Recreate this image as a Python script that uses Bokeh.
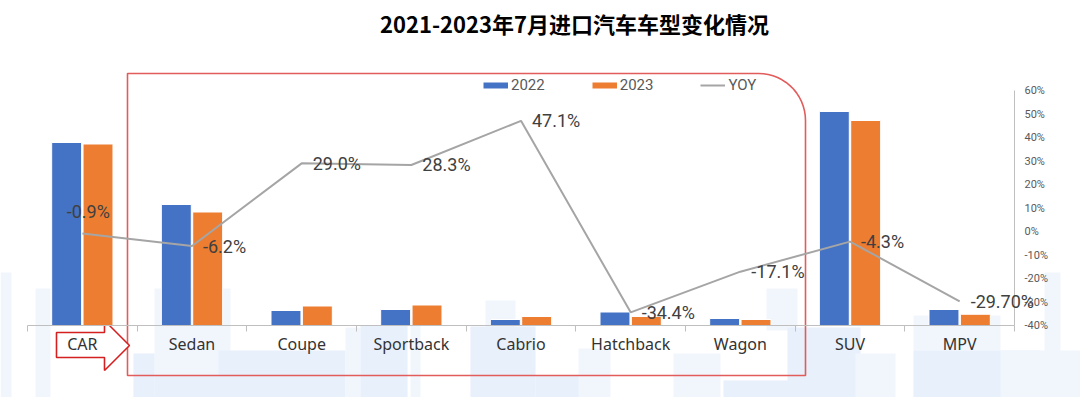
import math
from bokeh.plotting import figure
from bokeh.models import (Range1d, LinearAxis, FixedTicker, NumeralTickFormatter, Legend, LegendItem,
                          ColumnDataSource, LabelSet, Label, BoxAnnotation, PolyAnnotation)
from bokeh.core.properties import value
from bokeh.embed import file_html
from bokeh.resources import INLINE

# ---------------- data ----------------
categories = ["CAR", "Sedan", "Coupe", "Sportback", "Cabrio", "Hatchback", "Wagon", "SUV", "MPV"]
v2022 = [36600, 24200, 3000, 3200, 1200, 2700, 1400, 42800, 3200]
v2023 = [36300, 22700, 3900, 4100, 1800, 1800, 1200, 41000, 2250]
yoy = [-0.009, -0.062, 0.290, 0.283, 0.471, -0.344, -0.171, -0.043, -0.297]
yoy_labels = ["-0.9%", "-6.2%", "29.0%", "28.3%", "47.1%", "-34.4%", "-17.1%", "-4.3%", "-29.70%"]
series_names = ["2022", "2023", "YOY"]
yoy_ticks = [-0.4, -0.3, -0.2, -0.1, 0.0, 0.1, 0.2, 0.3, 0.4, 0.5, 0.6]
title_text = "2021-2023年7月进口汽车车型变化情况"

# ---------------- styles / layout ----------------
label_pos = ["above", "right", "right", "right", "right", "right", "right", "right", "right"]
BLUE, ORANGE, GRAY = "#4472C4", "#ED7D31", "#A5A5A5"
TXT = "#404040"
W, H = 1080, 397
LEFT_PX, RIGHT_PX, BASE_PX = 27, 1014, 325      # plot area edges on the page
UNIT_PER_PX = 200                               # bar value units per pixel
PCT_PER_PX = 0.01 / 2.35                        # YOY per pixel

n = len(categories)
cat_px = (RIGHT_PX - LEFT_PX) / n
centers = [i + 0.5 for i in range(n)]
bounds_x = [float(i) for i in range(n + 1)]

def dx(px):
    return (px - LEFT_PX) / cat_px

def dy(py):
    return (BASE_PX - py) * UNIT_PER_PX

p = figure(width=W, height=H,
           x_range=Range1d(dx(0), dx(W)), y_range=Range1d(dy(H), dy(0)),
           output_backend="svg", toolbar_location=None,
           min_border=0, min_border_left=0, min_border_right=0, min_border_top=0, min_border_bottom=0)
p.title.visible = False
p.outline_line_color = None
p.grid.visible = False
p.yaxis.visible = False
p.extra_y_ranges = {"yoy": Range1d(-0.40 - (H - BASE_PX) * PCT_PER_PX, -0.40 + BASE_PX * PCT_PER_PX)}

# decorative light-blue background skyline
LIGHT, MID = "#F1F6FD", "#E7F0FB"
deco = [(0, 272, 11, 397, LIGHT), (35, 288, 50, 397, LIGHT), (154, 288, 230, 397, LIGHT),
        (133, 353, 154, 397, MID), (218, 350, 345, 397, MID), (154, 375, 230, 397, MID),
        (345, 327, 360, 397, LIGHT), (360, 325, 407, 397, MID), (410, 316, 420, 397, LIGHT),
        (485, 300, 515, 330, LIGHT), (470, 326, 535, 397, MID), (535, 375, 597, 397, MID),
        (578, 348, 610, 397, LIGHT), (673, 353, 720, 397, LIGHT), (766, 288, 797, 330, LIGHT),
        (787, 327, 860, 397, MID), (723, 380, 850, 397, MID), (913, 315, 1000, 350, LIGHT),
        (913, 350, 1040, 397, MID), (1044, 272, 1060, 397, LIGHT), (1000, 350, 1080, 397, LIGHT),
        (855, 353, 895, 397, LIGHT)]
for x0, y0, x1, y1, c in deco:
    p.add_layout(BoxAnnotation(left=dx(x0), right=dx(x1), top=dy(y0), bottom=dy(y1),
                               fill_color=c, fill_alpha=1, line_alpha=0, level="underlay"))

# red box (rounded top-right corner) around the car sub-types
bl, br, bt, bb, rad = 127, 805, 73, 375, 47
bx = [bl, br - rad]
by = [bt, bt]
for k in range(1, 16):
    a = math.pi / 2 - k * (math.pi / 2) / 15
    bx.append(br - rad + rad * math.cos(a))
    by.append(bt + rad - rad * math.sin(a))
bx += [br, bl]
by += [bb, bb]
p.add_layout(PolyAnnotation(xs=[dx(v) for v in bx], ys=[dy(v) for v in by],
                            fill_alpha=0, line_color="#E25C5C", line_alpha=1, line_width=1.6,
                            level="underlay"))

# CAR arrow
ax = [56, 104, 104, 129, 104, 104, 56]
ay = [332, 332, 320, 345, 370, 357, 357]
p.add_layout(PolyAnnotation(xs=[dx(v) for v in ax], ys=[dy(v) for v in ay],
                            fill_color="white", fill_alpha=1, line_color="#D42020", line_alpha=1,
                            line_width=1.6, level="underlay"))

# bars
off, bw = 0.143, 0.273
src = ColumnDataSource(dict(x1=[c - off for c in centers], x2=[c + off for c in centers],
                            v22=v2022, v23=v2023, xc=centers, yoy=yoy, lab=yoy_labels))
p.vbar(x="x1", top="v22", bottom=0, width=bw, source=src, fill_color=BLUE, line_color="white", line_width=1)
p.vbar(x="x2", top="v23", bottom=0, width=bw, source=src, fill_color=ORANGE, line_color="white", line_width=1)

# YOY line
r_line = p.line(x="xc", y="yoy", source=src, y_range_name="yoy", line_color=GRAY, line_width=2)

# data labels
right_idx = [i for i in range(n) if label_pos[i] == "right"]
above_idx = [i for i in range(n) if label_pos[i] == "above"]
src_r = ColumnDataSource(dict(x=[centers[i] for i in right_idx], y=[yoy[i] for i in right_idx],
                              t=[yoy_labels[i] for i in right_idx]))
src_a = ColumnDataSource(dict(x=[centers[i] for i in above_idx], y=[yoy[i] for i in above_idx],
                              t=[yoy_labels[i] for i in above_idx]))
p.add_layout(LabelSet(x="x", y="y", text="t", source=src_r, y_range_name="yoy",
                      x_offset=11, y_offset=0, text_align="left", text_baseline="middle",
                      text_font=value("Roboto"), text_font_size="18px", text_color=TXT))
p.add_layout(LabelSet(x="x", y="y", text="t", source=src_a, y_range_name="yoy",
                      x_offset=6, y_offset=12, text_align="center", text_baseline="bottom",
                      text_font=value("Roboto"), text_font_size="18px", text_color=TXT))

# x axis at the bar baseline: labels at centers, ticks at category boundaries
xa = p.xaxis[0]
xa.fixed_location = 0
xa.bounds = (0, n)
xa.ticker = FixedTicker(ticks=centers, minor_ticks=bounds_x)
xa.major_label_overrides = {c: cat for c, cat in zip(centers, categories)}
xa.axis_line_color = "#BFBFBF"
xa.major_tick_line_color = None
xa.major_tick_out = 0
xa.major_tick_in = 0
xa.minor_tick_line_color = "#BFBFBF"
xa.minor_tick_out = 6
xa.minor_tick_in = 0
xa.major_label_standoff = 1
xa.major_label_text_font = "Noto Sans"
xa.major_label_text_font_size = "16px"
xa.major_label_text_color = "#333333"

# right axis at the right edge of the category area
ra = LinearAxis(y_range_name="yoy", ticker=FixedTicker(ticks=yoy_ticks),
                formatter=NumeralTickFormatter(format="0%"), bounds=(-0.4, 0.6),
                fixed_location=float(n))
ra.axis_line_color = "#BFBFBF"
ra.major_tick_line_color = None
ra.minor_tick_line_color = None
ra.major_tick_out = 0
ra.major_label_standoff = 10
ra.major_label_text_font = "Roboto"
ra.major_label_text_font_size = "11px"
ra.major_label_text_color = "#595959"
p.add_layout(ra, "right")

# legend with thin swatches (swatch renderers hold points outside the view)
d1 = p.line(x=[dx(-50), dx(-40)], y=[0, 0], line_color=BLUE, line_width=6)
d2 = p.line(x=[dx(-50), dx(-40)], y=[0, 0], line_color=ORANGE, line_width=6)
legend = Legend(items=[LegendItem(label=series_names[0], renderers=[d1]),
                       LegendItem(label=series_names[1], renderers=[d2]),
                       LegendItem(label=series_names[2], renderers=[r_line])],
                orientation="horizontal", location=(483, H - 94),
                glyph_width=25, glyph_height=16, label_height=16, label_standoff=3, spacing=47,
                padding=0, margin=0, border_line_color=None, background_fill_alpha=0,
                label_text_font="Roboto", label_text_font_size="15px", label_text_color="#595959")
p.add_layout(legend)

# title
p.add_layout(Label(x=dx(574), y=dy(22), text=title_text, text_align="center", text_baseline="middle",
                   text_font="Noto Sans CJK SC", text_font_style="bold", text_font_size="22px",
                   text_color="#000000"))

open("out.html", "w").write(file_html(p, INLINE))
